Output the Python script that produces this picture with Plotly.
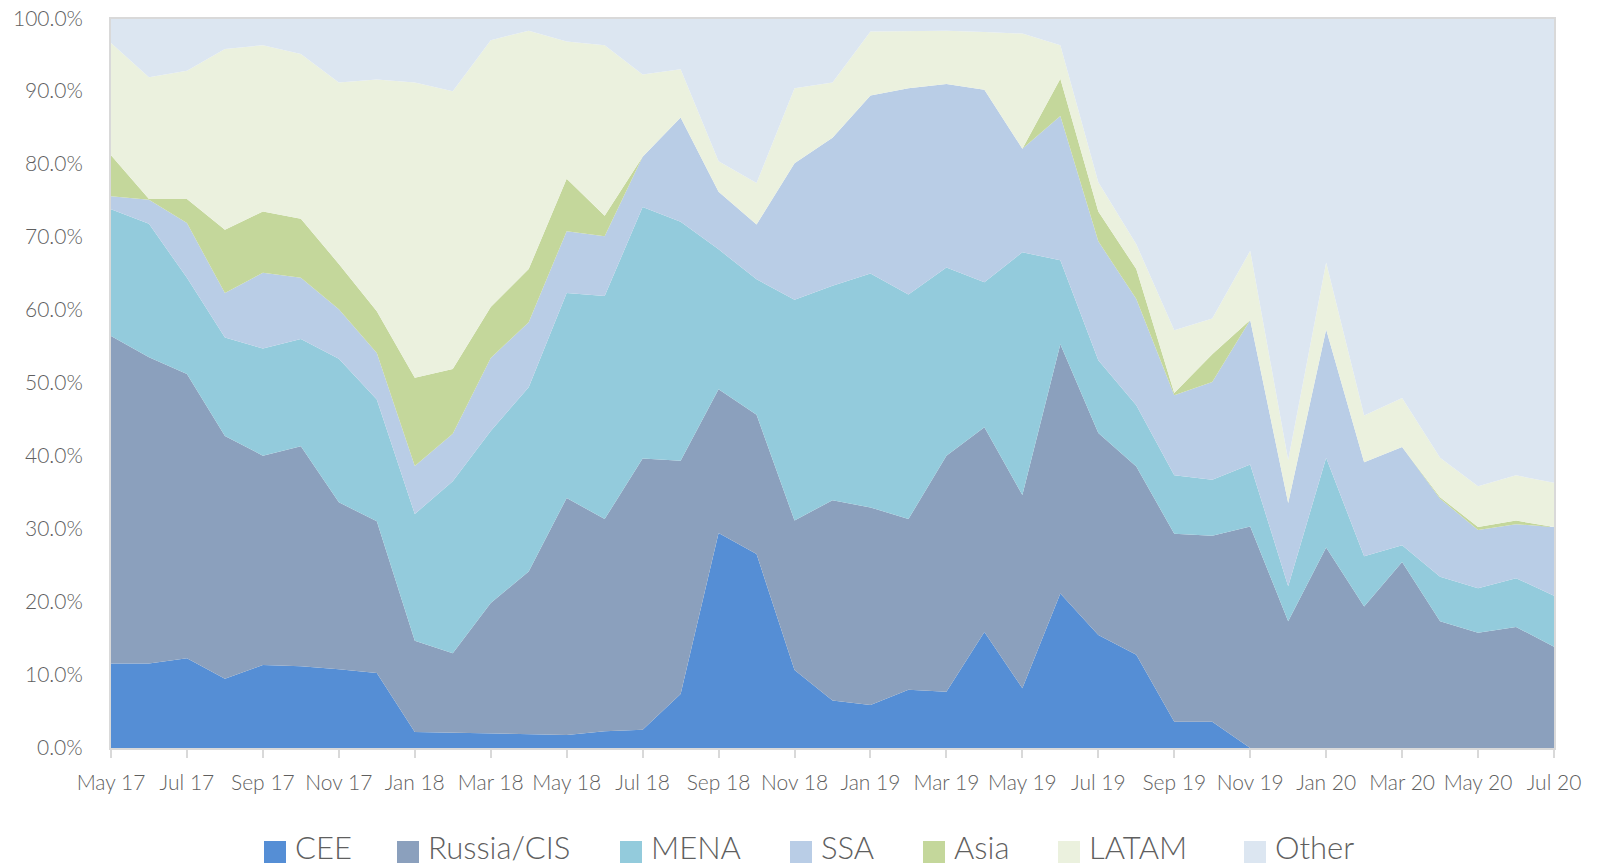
import plotly.graph_objects as go

months = ["May 17", "Jun 17", "Jul 17", "Aug 17", "Sep 17", "Oct 17", "Nov 17", "Dec 17",
          "Jan 18", "Feb 18", "Mar 18", "Apr 18", "May 18", "Jun 18", "Jul 18", "Aug 18",
          "Sep 18", "Oct 18", "Nov 18", "Dec 18", "Jan 19", "Feb 19", "Mar 19", "Apr 19",
          "May 19", "Jun 19", "Jul 19", "Aug 19", "Sep 19", "Oct 19", "Nov 19", "Dec 19",
          "Jan 20", "Feb 20", "Mar 20", "Apr 20", "May 20", "Jun 20", "Jul 20"]

cee = [11.6, 11.6, 12.3, 9.5, 11.4, 11.2, 10.8, 10.3, 2.2, 2.1, 2.0, 2.0, 1.8, 2.3, 2.5, 7.4,
       29.5, 26.6, 10.7, 6.5, 5.9, 8.0, 7.7, 15.9, 8.2, 21.2, 15.5, 12.8, 3.6, 3.6, 0, 0,
       0, 0, 0, 0, 0, 0, 0]
russia_cis = [44.9, 42.0, 39.0, 33.3, 28.7, 30.2, 22.9, 20.8, 12.5, 10.9, 17.9, 22.2, 32.5, 29.1,
              37.2, 32.0, 19.7, 19.1, 20.5, 27.5, 27.1, 23.4, 32.4, 28.1, 26.5, 34.2, 27.7, 25.8,
              25.8, 25.5, 30.4, 17.4, 27.5, 19.4, 25.5, 17.4, 15.8, 16.6, 13.9]
mena = [17.4, 18.3, 13.2, 13.5, 14.7, 14.7, 19.7, 16.7, 17.4, 23.6, 23.6, 25.3, 28.1, 30.6,
        34.5, 32.8, 19.2, 18.6, 30.3, 29.4, 32.1, 30.8, 25.8, 19.9, 33.3, 11.5, 10.0, 8.4,
        8.0, 7.7, 8.5, 4.8, 12.3, 6.9, 2.3, 6.1, 6.1, 6.7, 7.0]
ssa = [1.8, 3.3, 7.5, 6.1, 10.4, 8.4, 6.8, 6.4, 6.6, 6.5, 10.0, 8.9, 8.5, 8.2, 6.9, 14.3,
       7.9, 7.5, 18.7, 20.3, 24.4, 28.3, 25.2, 26.4, 14.2, 19.8, 16.3, 14.6, 11.0, 13.4, 19.8,
       11.4, 17.6, 12.9, 13.5, 10.7, 8.0, 7.4, 9.4]
asia = [5.6, 0.1, 3.3, 8.7, 8.4, 8.1, 6.2, 5.7, 12.1, 8.9, 7.0, 7.3, 7.2, 2.8, 0.0, 0.0,
        0.0, 0.0, 0.0, 0.0, 0.0, 0.0, 0.0, 0.0, 0.0, 5.1, 4.1, 4.1, 0.3, 3.8, 0.0, 0.0,
        0.0, 0.0, 0.0, 0.2, 0.4, 0.5, 0.0]
latam = [15.4, 16.7, 17.6, 24.8, 22.8, 22.6, 24.9, 31.8, 40.5, 38.1, 36.6, 32.7, 18.8, 23.4,
         11.3, 6.6, 4.2, 5.7, 10.3, 7.6, 8.8, 7.9, 7.3, 7.9, 15.8, 4.6, 4.0, 3.4, 8.6, 4.9,
         9.5, 5.9, 9.2, 6.4, 6.7, 5.4, 5.6, 6.2, 6.1]
other = [3.3, 8.0, 7.1, 4.1, 3.6, 4.8, 8.7, 8.3, 8.7, 9.9, 2.9, 1.6, 3.1, 3.6, 7.6, 6.9,
         19.5, 22.5, 9.5, 8.7, 1.7, 1.6, 1.6, 1.8, 2.0, 3.6, 22.4, 30.9, 42.7, 41.1, 31.8,
         60.5, 33.4, 54.4, 52.0, 60.2, 64.1, 62.6, 63.6]

y_ticks = [0, 10, 20, 30, 40, 50, 60, 70, 80, 90, 100]
y_tick_labels = ["0.0%", "10.0%", "20.0%", "30.0%", "40.0%", "50.0%", "60.0%", "70.0%",
                 "80.0%", "90.0%", "100.0%"]

series_names = ["CEE", "Russia/CIS", "MENA", "SSA", "Asia", "LATAM", "Other"]
series_values = [cee, russia_cis, mena, ssa, asia, latam, other]
series_colors = ["#558ed5", "#8ba0bd", "#93cbdc", "#b9cde6", "#c4d79b", "#ebf1de", "#dce6f1"]

# The page body has an 8px margin, so the figure is placed at (8, 8) in the window.
OFF = 8
W, H = 1584, 858
plot_left, plot_right, plot_top, plot_bottom = 111 - OFF, 1554 - OFF, 19 - OFF, 748 - OFF
L, R, T, B = plot_left, W - plot_right, plot_top, H - plot_bottom
font_family = "Lato, 'Open Sans', sans-serif"
text_color = "#5f5f5f"

fig = go.Figure()
for name, vals, color in zip(series_names, series_values, series_colors):
    fig.add_trace(go.Scatter(
        x=months, y=vals, name=name, mode="lines",
        stackgroup="one", line=dict(width=0, color=color),
        fillcolor=color, showlegend=False,
    ))

# custom legend (square swatches + labels), positioned in window pixels
pw, ph = W - L - R, H - T - B
def px2x(px):
    return (px - OFF - L) / pw
def py2y(py):
    return (H - B - (py - OFF)) / ph

legend_sq_x = [264, 397, 620, 790, 923, 1058, 1244]
shapes, annotations = [], []
for name, color, sx in zip(series_names, series_colors, legend_sq_x):
    shapes.append(dict(type="rect", xref="paper", yref="paper",
                       x0=px2x(sx), x1=px2x(sx + 22), y0=py2y(863), y1=py2y(841),
                       fillcolor=color, line=dict(width=0)))
    annotations.append(dict(xref="paper", yref="paper", x=px2x(sx + 29), y=py2y(847),
                            xanchor="left", yanchor="middle", showarrow=False, text=name,
                            font=dict(size=31, color=text_color, family=font_family, weight=300)))

# y-axis tick labels (drawn as text so the top one is not clipped at the page edge)
for v, lab in zip(y_ticks, y_tick_labels):
    annotations.append(dict(xref="paper", yref="y", x=0, y=v, xanchor="right",
                            yanchor="middle", xshift=-26, yshift=2, showarrow=False, text=lab,
                            font=dict(size=21, color=text_color, family=font_family, weight=300)))

fig.update_layout(
    width=W, height=H,
    margin=dict(l=L, r=R, t=T, b=B),
    paper_bgcolor="white", plot_bgcolor="white",
    font=dict(family=font_family, color=text_color, size=21, weight=300),
    showlegend=False,
    shapes=shapes, annotations=annotations,
)
fig.update_xaxes(
    type="category", tickmode="array", tickvals=months[::2], ticktext=months[::2],
    range=[0, len(months) - 1], showgrid=False, showline=True, linecolor="#d9d9d9",
    linewidth=1.5, mirror=True, ticks="outside", ticklen=8, tickwidth=2, tickcolor="#d9d9d9",
    ticklabelstandoff=7, tickfont=dict(size=21, color=text_color, weight=300),
    automargin=False,
)
fig.update_yaxes(
    range=[0, 100], tickmode="array", tickvals=y_ticks, showticklabels=False,
    showgrid=False, showline=True, linecolor="#d9d9d9", linewidth=1.5, mirror=True,
    zeroline=False, automargin=False,
)

fig.write_html("out.html")
